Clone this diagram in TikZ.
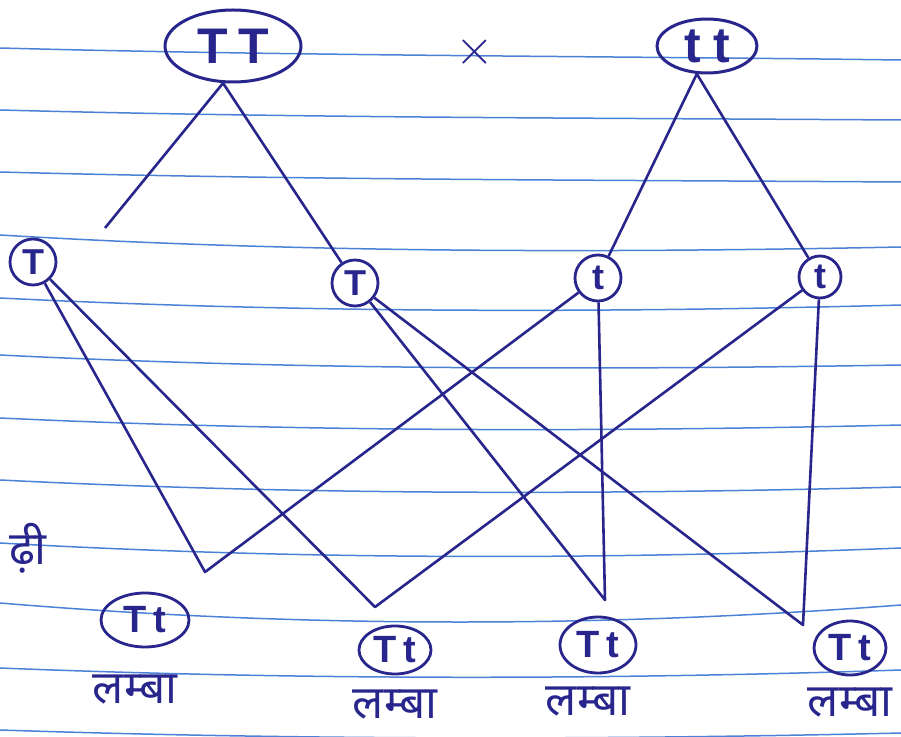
\documentclass[tikz,border=0pt]{standalone}
\usepackage{fontspec}
\setmainfont{Liberation Sans}
\newfontfamily\hindifont[Script=Devanagari]{Noto Sans}
\usepackage{tikz}
\usetikzlibrary{shapes.geometric}
\definecolor{inkblue}{RGB}{40, 38, 140}
\definecolor{ruleblue}{RGB}{75, 130, 215}

\begin{document}
\begin{tikzpicture}[x=0.5pt, y=-0.5pt,
    parent/.style={ellipse, draw=inkblue, line width=1.5pt, text=inkblue,
        inner sep=0pt, font=\bfseries\fontsize{25}{27}\selectfont},
    gamete/.style={circle, draw=inkblue, line width=1.4pt, text=inkblue,
        inner sep=0pt, minimum size=23pt, font=\bfseries\fontsize{18}{20}\selectfont},
    child/.style={ellipse, draw=inkblue, line width=1.4pt, text=inkblue,
        inner sep=0pt, font=\bfseries\fontsize{19}{21}\selectfont},
    trait/.style={text=inkblue, font=\hindifont\bfseries\fontsize{23}{25}\selectfont},
    pen/.style={inkblue, line width=1.3pt, line join=round},
    rule/.style={ruleblue, line width=0.75pt}
]

% Page with ruled lines
\useasboundingbox (0,0) rectangle (901,737);
\clip (0,0) rectangle (901,737);
\fill[white] (0,0) rectangle (901,737);
\foreach \yl/\ym/\yr in {48/56/60, 110/118/120, 172/180/182, 235/253/247,
    298/313/305, 355/370/365, 418/432/425, 480/495/487, 543/560/548,
    603/628/605, 668/680/670, 730/740/733}
  \draw[rule] (0,\yl) .. controls (300,\ym) and (600,\ym) .. (901,\yr);

% Parents
\node[parent, minimum width=68pt, minimum height=36pt] (TT) at (233,46) {T\hspace{5pt}T};
\node[text=inkblue, font=\fontsize{24}{26}\selectfont] (cross) at (475,52) {$\times$};
\node[parent, minimum width=50pt, minimum height=27pt] (tt) at (707,46) {t\hspace{6pt}t};

% Gametes
\node[gamete] (T1) at (33,262) {T};
\node[gamete] (T2) at (355,283) {T};
\node[gamete] (t1) at (598,278) {t};
\node[gamete, minimum size=21pt] (t2) at (820,277) {t};

% Offspring
\node[child, minimum width=44pt, minimum height=27pt] (o1) at (145,620) {T\,t};
\node[child, minimum width=36pt, minimum height=24pt] (o2) at (395,650) {T\,t};
\node[child, minimum width=38pt, minimum height=28pt] (o3) at (598,645) {T\,t};
\node[child, minimum width=36pt, minimum height=27pt] (o4) at (850,648) {T\,t};

\node[trait] (l1) at (135,690) {लम्बा};
\node[trait] (l2) at (395,705) {लम्बा};
\node[trait] (l3) at (588,702) {लम्बा};
\node[trait] (l4) at (850,703) {लम्बा};
\node[trait, anchor=west] (gen) at (2,548) {ढ़ी};

% Parent to gametes
\coordinate (a1) at (105,228);
\draw[pen] (a1) -- (TT.255) -- (T2);
\draw[pen] (t1) -- (tt.250) -- (t2);

% Crossing
\coordinate (m1) at (205,572);
\coordinate (m2) at (375,607);
\coordinate (m3) at (605,600);
\coordinate (m4) at (803,625);
\draw[pen] (T1) -- (m1) -- (t1);
\draw[pen] (T1) -- (m2) -- (t2);
\draw[pen] (T2) -- (m3) -- (t1);
\draw[pen] (T2) -- (m4) -- (t2);

\end{tikzpicture}
\end{document}
